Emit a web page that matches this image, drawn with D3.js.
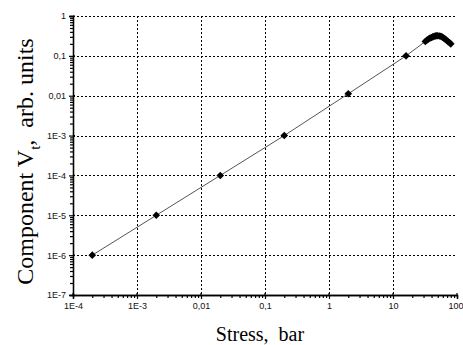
<!DOCTYPE html>
<html>
<head>
<meta charset="utf-8">
<script src="https://cdn.jsdelivr.net/npm/d3@7"></script>
<style>
  body { margin: 0; background: #fff; }
  svg { display: block; }
</style>
</head>
<body>
<div id="chart"></div>
<script>
// stress (bar) and component Vt (arb. units)
const stress = [2e-4, 2e-3, 0.02, 0.2, 2, 16,
  32, 34, 36, 38, 40, 42, 44, 46, 48, 50, 53, 56, 59, 62, 65, 68, 72, 76, 80]
const compV = [1e-6, 1e-5, 1e-4, 1e-3, 0.0112, 0.1,
  0.23, 0.25, 0.265, 0.28, 0.29, 0.30, 0.31, 0.315, 0.32, 0.32, 0.315, 0.31, 0.295, 0.28, 0.265, 0.25, 0.23, 0.215, 0.2]

const xTicks = [1e-4, 1e-3, 1e-2, 1e-1, 1, 10, 100]
const xLabels = ['1E-4', '1E-3', '0,01', '0,1', '1', '10', '100']
const yTicks = [1e-7, 1e-6, 1e-5, 1e-4, 1e-3, 1e-2, 1e-1, 1]
const yLabels = ['1E-7', '1E-6', '1E-5', '1E-4', '1E-3', '0,01', '0,1', '1']

const data = stress.map((s, i) => ({x: s, y: compV[i]}))

const m = {left: 73, right: 6, top: 16, bottom: 50}
const W = 463, H = 345
const w = W - m.left - m.right
const h = H - m.top - m.bottom

const svg = d3.select('#chart').append('svg')
  .attr('width', W).attr('height', H)

const g = svg.append('g')
  .attr('transform', `translate(${m.left}, ${m.top})`)

const x = d3.scaleLog().domain([1e-4, 100]).range([0, w])
const y = d3.scaleLog().domain([1e-7, 1]).range([h, 0])

// minor ticks 2..9 per decade
const minor = (lo, hi) => {
  const out = []
  for (let e = lo; e < hi; e++)
    for (let k = 2; k <= 9; k++) out.push(k * Math.pow(10, e))
  return out
}

// grid
g.append('g').selectAll('line')
  .data(xTicks.slice(1, -1)).enter().append('line')
  .attr('x1', d => Math.round(x(d)) + 0.5).attr('x2', d => Math.round(x(d)) + 0.5)
  .attr('y1', 0).attr('y2', h)
  .attr('stroke', '#000').attr('stroke-width', 1).attr('stroke-dasharray', '2,2')

g.append('g').selectAll('line')
  .data(yTicks.slice(1)).enter().append('line')
  .attr('y1', d => Math.round(y(d)) + 0.5).attr('y2', d => Math.round(y(d)) + 0.5)
  .attr('x1', 0).attr('x2', w)
  .attr('stroke', '#000').attr('stroke-width', 1).attr('stroke-dasharray', '2,2')

// axes
const xAxis = g.append('g').attr('transform', `translate(0, ${h})`)
xAxis.append('g')
  .call(d3.axisBottom(x).tickValues(minor(-4, 2)).tickSize(3).tickFormat(''))
xAxis.append('g')
  .call(d3.axisBottom(x).tickValues(xTicks).tickSize(4).tickPadding(4)
    .tickFormat((d, i) => xLabels[i]))

const yAxis = g.append('g')
yAxis.append('g')
  .call(d3.axisLeft(y).tickValues(minor(-7, 0)).tickSize(3).tickFormat(''))
yAxis.append('g')
  .call(d3.axisLeft(y).tickValues(yTicks).tickSize(4).tickPadding(3)
    .tickFormat((d, i) => yLabels[i]))

g.selectAll('.domain').attr('stroke', '#000').attr('stroke-width', 1.3)
g.selectAll('.tick line').attr('stroke', '#000').attr('stroke-width', 1.2)
g.selectAll('.tick text')
  .attr('font-family', 'Liberation Sans, Arial, sans-serif')
  .attr('font-size', 9).attr('fill', '#111')

// keep the last x label inside the window
xAxis.selectAll('.tick text').filter(d => d === 100)
  .attr('text-anchor', 'end').attr('dx', 6)

// major ticks also go inside a little
g.append('g').selectAll('line').data(xTicks).enter().append('line')
  .attr('x1', d => x(d)).attr('x2', d => x(d))
  .attr('y1', h).attr('y2', h - 2).attr('stroke', '#000').attr('stroke-width', 1.2)
g.append('g').selectAll('line').data(yTicks).enter().append('line')
  .attr('y1', d => y(d)).attr('y2', d => y(d))
  .attr('x1', 0).attr('x2', 2).attr('stroke', '#000').attr('stroke-width', 1.2)

// line
g.append('path').datum(data)
  .attr('d', d3.line().x(d => x(d.x)).y(d => y(d.y)))
  .attr('fill', 'none').attr('stroke', '#555').attr('stroke-width', 1)

// diamonds
g.selectAll('.pt').data(data).enter().append('path')
  .attr('class', 'pt')
  .attr('transform', d => `translate(${x(d.x)}, ${y(d.y)})`)
  .attr('d', 'M0,-3.8L3.8,0L0,3.8L-3.8,0Z')
  .attr('fill', '#000')

// titles
svg.append('text')
  .attr('x', m.left + w / 2 - 5).attr('y', 341)
  .attr('text-anchor', 'middle')
  .attr('font-family', 'Liberation Serif, Times New Roman, serif')
  .attr('font-size', 20)
  .text('Stress,\u00a0\u00a0bar')

const yt = svg.append('text')
  .attr('transform', `translate(33, ${m.top + h / 2 + 6}) rotate(-90)`)
  .attr('text-anchor', 'middle')
  .attr('font-family', 'Liberation Serif, Times New Roman, serif')
  .attr('font-size', 24)
yt.append('tspan').text('Component V')
yt.append('tspan').attr('font-size', 15).attr('dy', 7).text('t')
yt.append('tspan').attr('dy', -7).text(',\u00a0 arb. units')
</script>
</body>
</html>
